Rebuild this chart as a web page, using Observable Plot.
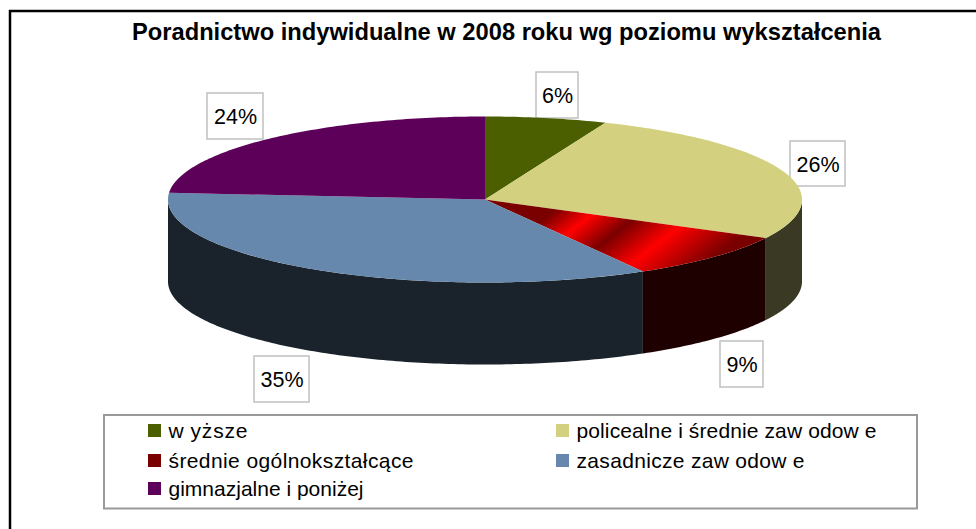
<!DOCTYPE html>
<html><head><meta charset="utf-8">
<style>html,body{margin:0;padding:0;background:#fff}svg{display:block}</style>
<script src="https://cdn.jsdelivr.net/npm/d3@7"></script>
<script src="https://cdn.jsdelivr.net/npm/@observablehq/plot@0.6"></script>
</head><body><script>
const categories = ["wyższe","policealne i średnie zawodowe","średnie ogólnokształcące","zasadnicze zawodowe","gimnazjalne i poniżej"];
const shares = [6.2,26.49,9.01,34.59,23.71];
const labels = ["6%","26%","9%","35%","24%"];
const topColors = ["#4b5f00","#d3d17f","url(#redBands)","#6688ac","#5c0059"];
const sideColors = ["#2c3600","#3a3a24","#1e0000","#1a232c","#2e002c"];
const legendColors = ["#4b5f00","#d3d17f","#7a0000","#6688ac","#5c0059"];

const W=976,H=529,cx=484.5,cy=199,rx=317,ry=83,depth=82;
const ang=p=>p/100*2*Math.PI;
const px=a=>cx+rx*Math.sin(a), py=a=>cy-ry*Math.cos(a);
let cum=0; const spans=shares.map(v=>{const s=[cum,cum+v];cum+=v;return s;});
const topPts=[],sidePts=[];
spans.forEach(([a,b],i)=>{
  topPts.push({i,x:cx,y:cy});
  const n=Math.max(12,Math.round((b-a)*4));
  for(let k=0;k<=n;k++){const t=ang(a+(b-a)*k/n);topPts.push({i,x:px(t),y:py(t)});}
  const lo=Math.max(a,25),hi=Math.min(b,75);
  if(hi>lo){
    const up=[];
    for(let k=0;k<=n;k++){const t=ang(lo+(hi-lo)*k/n);up.push({i,x:px(t),y:py(t)});}
    const down=up.slice().reverse().map(d=>({i,x:d.x,y:d.y+depth}));
    sidePts.push(...up,...down);
  }
});
const boxes=[{x1:536,x2:578,y1:72,y2:118,l:0},{x1:790,x2:845,y1:141,y2:186,l:1},{x1:720,x2:763,y1:341,y2:387,l:2},{x1:254,x2:309,y1:356,y2:402,l:3},{x1:207,x2:263,y1:93,y2:139,l:4}];
const legendPos=[{x:148,y:424},{x:556,y:424},{x:148,y:454},{x:556,y:454},{x:148,y:482}];
const legendWidths=[79,300,245,228,195];
const legendData=categories.map((c,i)=>({c,i,...legendPos[i]}));

const defs=()=>{
  const ns="http://www.w3.org/2000/svg";
  const d=document.createElementNS(ns,"defs");
  const g=document.createElementNS(ns,"linearGradient");
  g.setAttribute("id","redBands");g.setAttribute("gradientUnits","userSpaceOnUse");
  g.setAttribute("x1",484);g.setAttribute("y1",199);g.setAttribute("x2",610);g.setAttribute("y2",359);
  [[0,"#7a0000"],[.256,"#7a0000"],[.384,"#ff0000"],[.527,"#7a0000"],[.695,"#ff0000"],[.92,"#7a0000"],[1,"#7a0000"]].forEach(([o,c])=>{
    const s=document.createElementNS(ns,"stop");s.setAttribute("offset",o);s.setAttribute("stop-color",c);g.appendChild(s);});
  d.appendChild(g);return d;
};
const sans="'Liberation Sans',Arial,sans-serif";
const chart=Plot.plot({
  width:W,height:H,margin:0,
  x:{domain:[0,W],range:[0,W],axis:null},
  y:{domain:[0,H],range:[0,H],axis:null},
  style:{fontFamily:sans,background:"#fff"},
  marks:[
    defs,
    Plot.ruleX([9.5],{y1:10,y2:H,stroke:"#000",strokeWidth:2.5}),
    Plot.ruleY([10.5],{x1:9,x2:W,stroke:"#000",strokeWidth:2.5}),
    Plot.text(["Poradnictwo indywidualne w 2008 roku wg poziomu wykształcenia"],{frameAnchor:"top-left",dx:506,dy:32,text:d=>d,textAnchor:"middle",lineAnchor:"middle",fontWeight:"bold",fontSize:23.7,fill:"#000"}),
    Plot.rect(boxes,{x1:"x1",x2:"x2",y1:"y1",y2:"y2",fill:"#fff",stroke:"#c0c0c0",strokeWidth:1.5}),
    Plot.line(sidePts,{x:"x",y:"y",z:"i",fill:d=>sideColors[d.i],stroke:null,curve:"linear"}),
    Plot.line(topPts,{x:"x",y:"y",z:"i",fill:d=>topColors[d.i],stroke:null,curve:"linear"}),
    Plot.text(boxes,{x:d=>(d.x1+d.x2)/2,y:d=>(d.y1+d.y2)/2+1,text:d=>labels[d.l],fontSize:21.5,fill:"#000"}),
    Plot.rect([0],{x1:()=>104,x2:()=>917,y1:()=>415,y2:()=>508.5,fill:"#fff",stroke:"#999",strokeWidth:2}),
    Plot.rect(legendData,{x1:"x",x2:d=>d.x+13,y1:"y",y2:d=>d.y+13,fill:d=>legendColors[d.i]}),
    Plot.text(legendData,{className:"legend-label",x:d=>d.x+20,y:d=>d.y+7,text:"c",textAnchor:"start",fontSize:21,fill:"#000"})
  ]
});
document.body.appendChild(chart);
// Spacing of the legend labels: the reference leaves a small gap after each "w".
const wGap=6, ns="http://www.w3.org/2000/svg";
chart.querySelectorAll(".legend-label text").forEach((t,i)=>{
  const s=t.textContent, natural=t.getComputedTextLength(), nW=(s.match(/w/g)||[]).length;
  const residual=Math.max(0,(legendWidths[i]-natural-nW*wGap)/(s.length-1));
  t.style.letterSpacing=residual+"px";
  t.textContent="";
  s.split(/(?<=w)/).forEach((part,k)=>{
    const sp=document.createElementNS(ns,"tspan");
    if(k>0) sp.setAttribute("dx",wGap);
    sp.textContent=part;t.appendChild(sp);
  });
});
</script></body></html>
